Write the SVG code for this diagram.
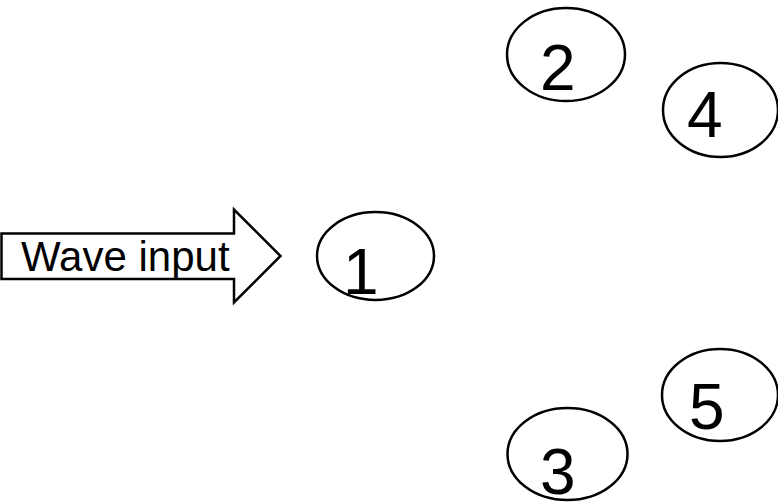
<svg xmlns="http://www.w3.org/2000/svg" width="778" height="502" viewBox="0 0 778 502">
<style>
.node ellipse{fill:#fff;stroke:#000;stroke-width:2.5}
.num{font-family:"Liberation Sans",Arial,sans-serif;font-size:64px;fill:#000}
.lbl{font-family:"Liberation Sans",Arial,sans-serif;font-size:42px;fill:#000}
</style>
<rect width="778" height="502" fill="#fff"/>
<g id="connectors"></g>
<g id="wave-input">
<polygon points="1.5,233.5 234,233.5 234,209.5 280.5,256 234,302.5 234,279 1.5,279" fill="#fff" stroke="#000" stroke-width="2.5" stroke-linejoin="miter"/>
<text class="lbl" x="21" y="271">Wave input</text>
</g>
<g id="node1" class="node"><ellipse cx="375.5" cy="256" rx="58.5" ry="44"/><text class="num" x="343" y="294">1</text></g>
<g id="node2" class="node"><ellipse cx="566" cy="54.5" rx="59" ry="46.5"/><text class="num" x="540" y="90">2</text></g>
<g id="node3" class="node"><ellipse cx="567.5" cy="454" rx="60" ry="46"/><text class="num" x="540" y="494">3</text></g>
<g id="node4" class="node"><ellipse cx="720.5" cy="110" rx="57.5" ry="47"/><text class="num" x="687" y="137">4</text></g>
<g id="node5" class="node"><ellipse cx="720" cy="395" rx="58" ry="46"/><text class="num" x="689" y="429">5</text></g>
</svg>
